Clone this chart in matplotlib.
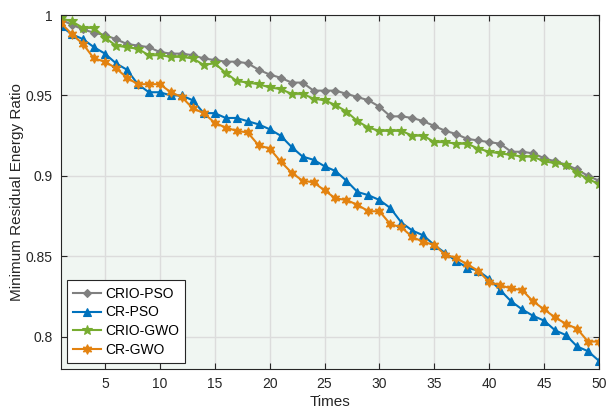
import matplotlib
matplotlib.use("Agg")
import matplotlib.pyplot as plt
import numpy as np

times = list(range(1, 51))

crio_pso = [0.997, 0.994, 0.991, 0.989, 0.9875, 0.985, 0.982, 0.981, 0.980, 0.977,
            0.976, 0.976, 0.975, 0.973, 0.972, 0.971, 0.971, 0.970, 0.966, 0.963,
            0.961, 0.958, 0.958, 0.953, 0.953, 0.953, 0.951, 0.949, 0.947, 0.943,
            0.937, 0.937, 0.936, 0.934, 0.931, 0.928, 0.926, 0.923, 0.922, 0.921,
            0.920, 0.915, 0.915, 0.914, 0.911, 0.909, 0.907, 0.904, 0.900, 0.897]

cr_pso = [0.993, 0.988, 0.985, 0.980, 0.976, 0.970, 0.966, 0.957, 0.952, 0.952,
          0.950, 0.950, 0.947, 0.939, 0.939, 0.936, 0.936, 0.934, 0.932, 0.929,
          0.925, 0.918, 0.912, 0.910, 0.906, 0.903, 0.897, 0.890, 0.888, 0.885,
          0.880, 0.871, 0.866, 0.863, 0.857, 0.852, 0.847, 0.843, 0.841, 0.836,
          0.829, 0.822, 0.817, 0.813, 0.810, 0.804, 0.801, 0.794, 0.791, 0.785]

crio_gwo = [0.998, 0.996, 0.992, 0.992, 0.986, 0.981, 0.980, 0.979, 0.975, 0.975,
            0.974, 0.974, 0.973, 0.969, 0.970, 0.964, 0.959, 0.958, 0.957, 0.955,
            0.954, 0.951, 0.951, 0.948, 0.947, 0.944, 0.940, 0.934, 0.930, 0.928,
            0.928, 0.928, 0.925, 0.925, 0.921, 0.921, 0.920, 0.920, 0.917, 0.915,
            0.914, 0.913, 0.912, 0.912, 0.909, 0.908, 0.907, 0.902, 0.898, 0.895]

cr_gwo = [0.995, 0.988, 0.982, 0.973, 0.971, 0.967, 0.961, 0.957, 0.957, 0.957,
          0.952, 0.949, 0.942, 0.939, 0.933, 0.930, 0.928, 0.927, 0.919, 0.917,
          0.909, 0.902, 0.897, 0.896, 0.891, 0.886, 0.885, 0.882, 0.878, 0.878,
          0.870, 0.868, 0.862, 0.859, 0.857, 0.851, 0.849, 0.845, 0.841, 0.834,
          0.832, 0.830, 0.829, 0.822, 0.817, 0.812, 0.808, 0.805, 0.797, 0.797]

labels = ["CRIO-PSO", "CR-PSO", "CRIO-GWO", "CR-GWO"]
xticks = [5, 10, 15, 20, 25, 30, 35, 40, 45, 50]
yticks = [0.8, 0.85, 0.9, 0.95, 1.0]
yticklabels = ["0.8", "0.85", "0.9", "0.95", "1"]

plt.rcParams['font.family'] = ['Liberation Sans', 'DejaVu Sans']

fig = plt.figure(figsize=(6.07, 4.09), dpi=100)
ax = fig.add_axes([0.1005, 0.098, 0.8863, 0.8653])
ax.set_facecolor('#F0F6F2')

series = [crio_pso, cr_pso, crio_gwo, cr_gwo]
colors = ['#808080', '#0072BD', '#77AC30', '#E3820F']
markers = ['D', '^', '*', (6, 1, 0)]
msizes = [4, 5.5, 7.5, 7]

for y, lab, c, m, ms in zip(series, labels, colors, markers, msizes):
    ax.plot(times, y, color=c, marker=m, markersize=ms, linewidth=1.5, label=lab,
            markeredgewidth=0.8)

ax.set_xlim(1, 50)
ax.set_ylim(0.78, 1.0)
ax.set_xticks(xticks)
ax.set_yticks(yticks)
ax.set_yticklabels(yticklabels)
ax.grid(True, color='#DCDCDC', linewidth=1.0)
ax.set_axisbelow(True)
ax.tick_params(direction='in', length=4, labelsize=10, colors='#262626',
               top=True, right=True, pad=6)
for s in ax.spines.values():
    s.set_color('#262626')
    s.set_linewidth(0.8)

ax.set_xlabel('Times', fontsize=11, color='#262626', labelpad=3)
ax.set_ylabel('Minimum Residual Energy Ratio', fontsize=11, color='#262626', labelpad=1)

leg = ax.legend(loc='lower left', fontsize=10, frameon=True, fancybox=False,
                edgecolor='#262626', framealpha=1.0, handlelength=2.0,
                borderpad=0.45, labelspacing=0.35, handletextpad=0.3,
                borderaxespad=0.4, bbox_to_anchor=(0.0, 0.0))
leg.get_frame().set_linewidth(0.8)

fig.savefig('out.png', dpi=100)
